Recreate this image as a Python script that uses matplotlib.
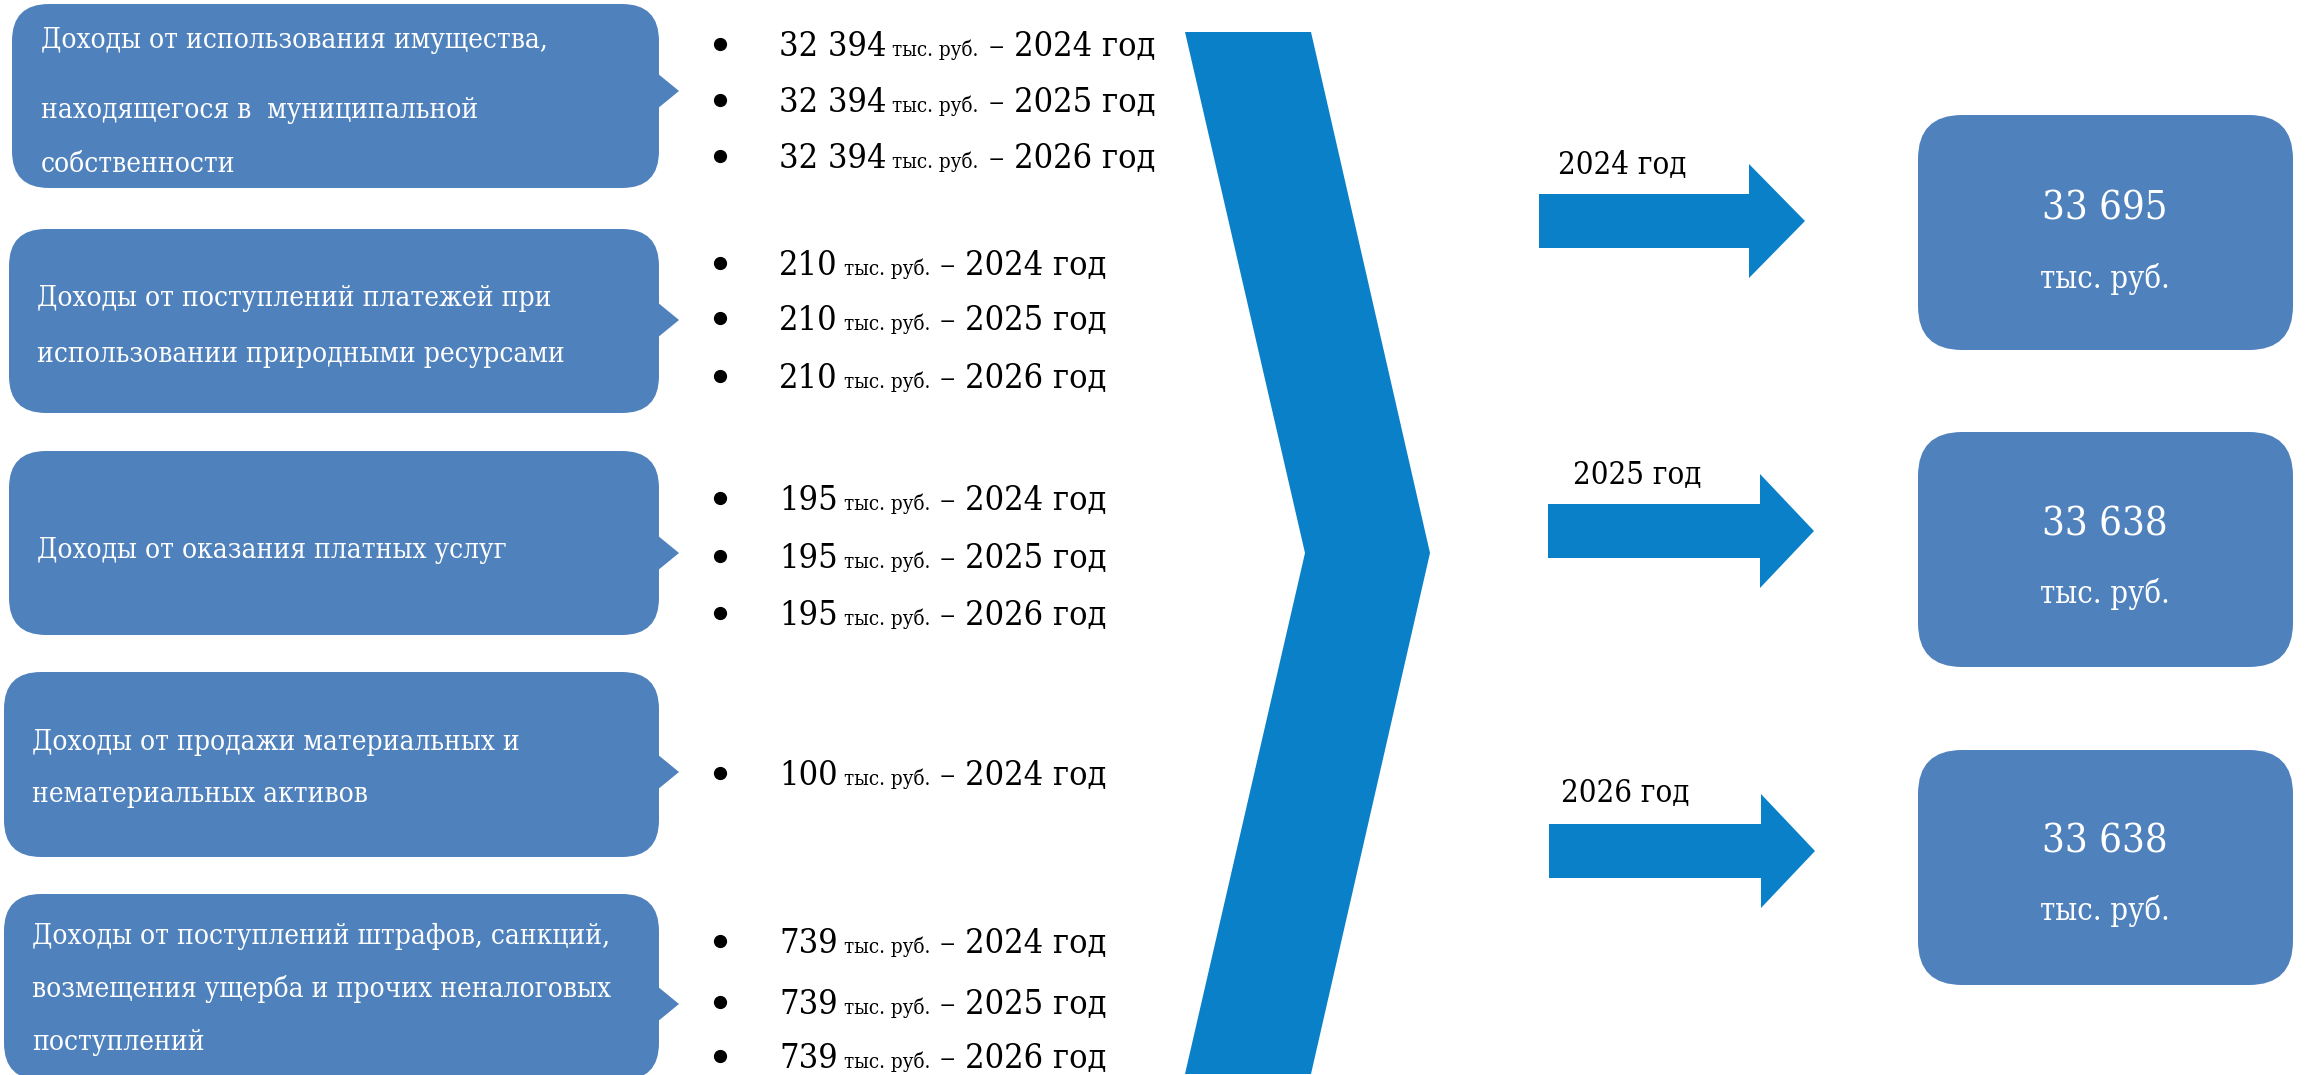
import os
import matplotlib
matplotlib.use("Agg")
import matplotlib.pyplot as plt
from matplotlib import font_manager as fm
from matplotlib.font_manager import FontProperties
from matplotlib.patches import FancyBboxPatch, Polygon

# ---------------- data ----------------
income_labels = [
    ["Доходы от использования имущества,", "находящегося в  муниципальной", "собственности"],
    ["Доходы от поступлений платежей при", "использовании природными ресурсами"],
    ["Доходы от оказания платных услуг"],
    ["Доходы от продажи материальных и", "нематериальных активов"],
    ["Доходы от поступлений штрафов, санкций,", "возмещения ущерба и прочих неналоговых", "поступлений"],
]
income_values = [
    [32394, 32394, 32394],
    [210, 210, 210],
    [195, 195, 195],
    [100],
    [739, 739, 739],
]
income_years = [
    [2024, 2025, 2026],
    [2024, 2025, 2026],
    [2024, 2025, 2026],
    [2024],
    [2024, 2025, 2026],
]
total_years = [2024, 2025, 2026]
total_values = [33695, 33638, 33638]
unit = "тыс. руб."
year_word = "год"

# ---------------- style / layout ----------------
BOX_BLUE = "#4f81bd"
ARROW_BLUE = "#0a80c8"
W, H = 2305, 1075

fig = plt.figure(figsize=(W / 100, H / 100), dpi=100)
ax = fig.add_axes([0, 0, 1, 1])
ax.set_xlim(0, W)
ax.set_ylim(H, 0)
ax.axis("off")

# font choice: a condensed face if present
path = None
for cand in ["DejaVuSerifCondensed.ttf", "LiberationSansNarrow-Regular.ttf",
             "DejaVuSansCondensed.ttf", "LiberationSerif-Regular.ttf"]:
    for f in fm.fontManager.ttflist:
        if os.path.basename(f.fname) == cand:
            path = f.fname
            break
    if path:
        break
fp = FontProperties(fname=path) if path else FontProperties(family="DejaVu Sans")

renderer = fig.canvas.get_renderer()


def text_width(s, size):
    t = ax.text(0, 0, s, fontproperties=fp, size=size)
    w = t.get_window_extent(renderer).width
    t.remove()
    return w


def fit(s, target):
    return 10 * target / text_width(s, 10)


def fmt(v):
    return f"{v:,}".replace(",", " ")


s_box = fit("Доходы от поступлений штрафов, санкций,", 576)
s_big = fit("– 2024 год", 166)
s_small = fit("тыс. руб.", 86)
s_year = fit("2024 год", 128)
s_num = fit("33 695", 126)
s_unit = fit("тыс. руб.", 129)

# left boxes
box_x0 = [12, 9, 9, 4, 4]
box_y0 = [4, 229, 451, 672, 894]
box_y1 = [188, 413, 635, 857, 1080]
box_x1 = 659
pointer_y = [91, 320, 553, 772, 1004]
label_x = [41, 37, 37, 32, 32]
label_y = [[40, 110, 165], [298, 354], [550], [742, 795], [936, 989, 1042]]
bullet_y = [[44, 100, 156], [263, 318, 376], [498, 556, 613], [773], [941, 1002, 1056]]

for i, lines in enumerate(income_labels):
    x0, y0, y1 = box_x0[i], box_y0[i], box_y1[i]
    ax.add_patch(FancyBboxPatch((x0, y0), box_x1 - x0, y1 - y0,
                                boxstyle="round,pad=0,rounding_size=37",
                                fc=BOX_BLUE, ec="none"))
    py = pointer_y[i]
    ax.add_patch(Polygon([(box_x1 - 2, py - 18), (box_x1 + 20, py), (box_x1 - 2, py + 18)],
                         closed=True, fc=BOX_BLUE, ec="none"))
    for line, ly in zip(lines, label_y[i]):
        ax.text(label_x[i], ly, line, fontproperties=fp, size=s_box,
                color="white", ha="left", va="center")

    # bullet list
    cap_px = 0.73 * s_big * 100 / 72
    for v, yr, yc in zip(income_values[i], income_years[i], bullet_y[i]):
        ax.plot([720], [yc], "o", color="black", ms=8.5)
        base = yc + cap_px / 2
        x = 779
        t1 = ax.text(x, base, fmt(v), fontproperties=fp, size=s_big,
                     color="black", ha="left", va="baseline")
        x += t1.get_window_extent(renderer).width + 6
        t2 = ax.text(x, base, unit, fontproperties=fp, size=s_small,
                     color="black", ha="left", va="baseline")
        x += t2.get_window_extent(renderer).width + 10
        ax.text(x, base, f"– {yr} {year_word}", fontproperties=fp, size=s_big,
                color="black", ha="left", va="baseline")

# chevron
ax.add_patch(Polygon([(1185, 32), (1311, 32), (1430, 553), (1311, 1074),
                      (1185, 1074), (1305, 553)], closed=True, fc=ARROW_BLUE, ec="none"))

# arrows and totals
arrow_x0 = [1539, 1548, 1549]
arrow_hx = [1749, 1760, 1761]
arrow_tip = [1805, 1814, 1815]
arrow_y = [221, 531, 851]
year_lab_x = [1558, 1573, 1561]
year_lab_y = [166, 475, 794]
tbox_y0 = [115, 432, 750]
num_y = [209, 525, 842]
unit_y = [279, 594, 911]

for k, (yr, tot) in enumerate(zip(total_years, total_values)):
    x0, hx, tip, cy = arrow_x0[k], arrow_hx[k], arrow_tip[k], arrow_y[k]
    ax.add_patch(Polygon([(x0, cy - 27), (hx, cy - 27), (hx, cy - 57), (tip, cy),
                          (hx, cy + 57), (hx, cy + 27), (x0, cy + 27)],
                         closed=True, fc=ARROW_BLUE, ec="none"))
    ax.text(year_lab_x[k], year_lab_y[k], f"{yr} {year_word}", fontproperties=fp,
            size=s_year, color="black", ha="left", va="center")
    ax.add_patch(FancyBboxPatch((1918, tbox_y0[k]), 2293 - 1918, 235,
                                boxstyle="round,pad=0,rounding_size=44",
                                fc=BOX_BLUE, ec="none"))
    ax.text(2105, num_y[k], fmt(tot), fontproperties=fp, size=s_num,
            color="white", ha="center", va="center")
    ax.text(2105, unit_y[k], unit, fontproperties=fp, size=s_unit,
            color="white", ha="center", va="center")

fig.savefig("out.png", dpi=100, facecolor="white")
